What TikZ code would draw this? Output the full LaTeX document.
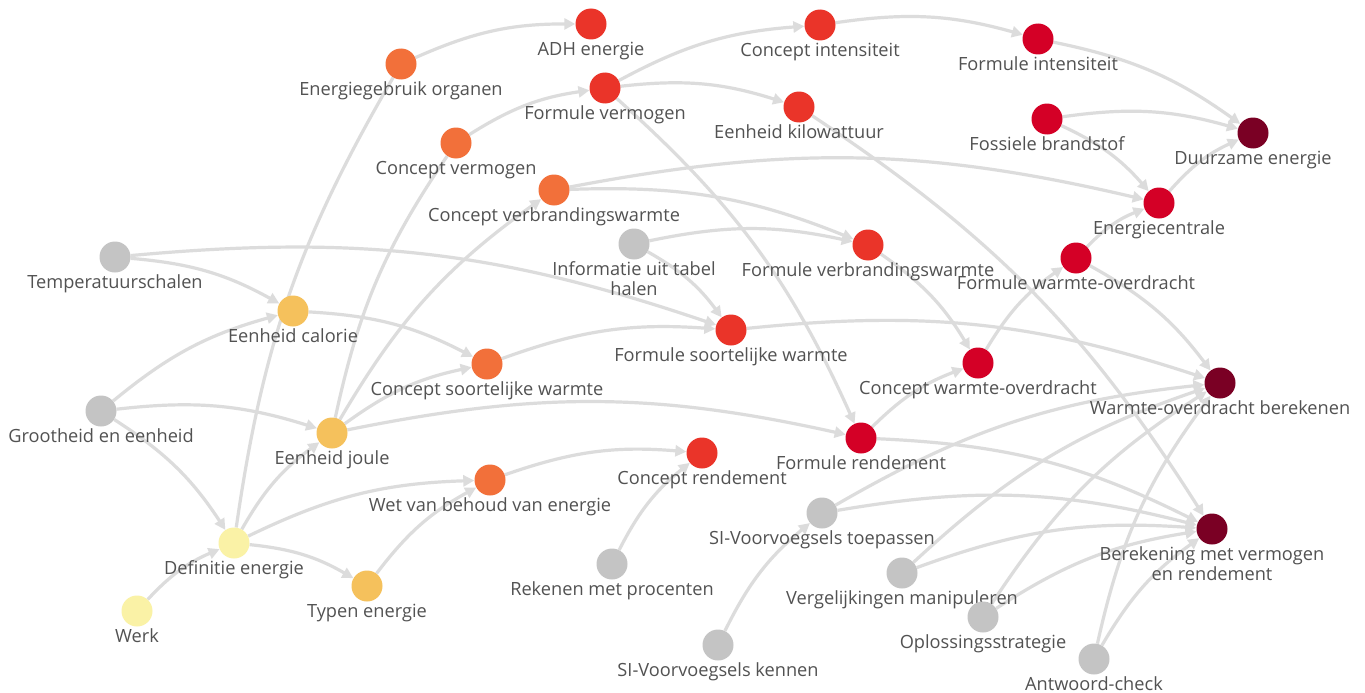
\documentclass[tikz,border=0pt]{standalone}
\usepackage{fontspec}
\setmainfont{Open Sans}
\usetikzlibrary{arrows.meta}
\pgfdeclarelayer{bg}
\pgfsetlayers{bg,main}
\definecolor{cgrey}{HTML}{C4C4C4}
\definecolor{cpale}{HTML}{FAF2A6}
\definecolor{cyel}{HTML}{F5C15C}
\definecolor{corange}{HTML}{F2703A}
\definecolor{cred}{HTML}{EA3429}
\definecolor{ccrim}{HTML}{D40026}
\definecolor{cmaroon}{HTML}{7A0024}
\definecolor{edgec}{HTML}{DCDCDC}
\definecolor{labelc}{HTML}{525252}
\begin{document}
\begin{tikzpicture}[x=1pt,y=-1pt,
  kn/.style={circle,fill=#1,minimum size=31pt,inner sep=0pt,draw=none},
  every label/.style={font=\fontsize{18.2}{20}\selectfont, text=labelc, inner sep=0pt, align=center},
  label distance=2pt,
  lnk/.style={draw=edgec, line width=3.2pt, -{Triangle[length=11pt,width=11pt]}, bend left=12},
  plain/.style={draw=edgec, line width=3.2pt, bend left=11},
]
\useasboundingbox (0,0) rectangle (1365,693);

\node[kn=corange,label=below:Energiegebruik organen] (eo) at (401,64) {};
\node[kn=cred,label=below:ADH energie] (adh) at (591,24) {};
\node[kn=cred,label=below:Concept intensiteit] (ci) at (820,25) {};
\node[kn=ccrim,label=below:Formule intensiteit] (fi) at (1038,39) {};
\node[kn=cred,label=below:Formule vermogen] (fv) at (605,88) {};
\node[kn=cred,label=below:Eenheid kilowattuur] (ek) at (799,107) {};
\node[kn=ccrim,label=below:Fossiele brandstof] (fb) at (1047,119) {};
\node[kn=cmaroon,label=below:Duurzame energie] (de) at (1253,133) {};
\node[kn=corange,label=below:Concept vermogen] (cv) at (456,143) {};
\node[kn=corange,label=below:Concept verbrandingswarmte] (cvw) at (554,190) {};
\node[kn=ccrim,label=below:Energiecentrale] (ec) at (1159,203) {};
\node[kn=cgrey,label=below:Temperatuurschalen] (ts) at (115,257) {};
\node[kn=cgrey,label={below:Informatie uit tabel\\halen}] (it) at (634,244) {};
\node[kn=cred,label=below:Formule verbrandingswarmte] (fvw) at (868,245) {};
\node[kn=ccrim,label=below:Formule warmte-overdracht] (fwo) at (1076,258) {};
\node[kn=cyel,label=below:Eenheid calorie] (ecal) at (293,311) {};
\node[kn=cred,label=below:Formule soortelijke warmte] (fsw) at (731,330) {};
\node[kn=corange,label=below:Concept soortelijke warmte] (csw) at (487,364) {};
\node[kn=ccrim,label=below:Concept warmte-overdracht] (cwo) at (978,363) {};
\node[kn=cmaroon,label=below:Warmte-overdracht berekenen] (wob) at (1220,383) {};
\node[kn=cgrey,label=below:Grootheid en eenheid] (ge) at (101,411) {};
\node[kn=cyel,label=below:Eenheid joule] (ej) at (332,433) {};
\node[kn=ccrim,label=below:Formule rendement] (fr) at (861,438) {};
\node[kn=cred,label=below:Concept rendement] (cr) at (702,453) {};
\node[kn=corange,label=below:Wet van behoud van energie] (wbe) at (490,480) {};
\node[kn=cgrey,label=below:SI-Voorvoegsels toepassen] (sit) at (822,513) {};
\node[kn=cmaroon,label={below:Berekening met vermogen\\en rendement}] (bvr) at (1212,529) {};
\node[kn=cpale,label=below:Definitie energie] (dfe) at (234,543) {};
\node[kn=cgrey,label=below:Rekenen met procenten] (rmp) at (612,564) {};
\node[kn=cyel,label=below:Typen energie] (te) at (367,586) {};
\node[kn=cpale,label=below:Werk] (wk) at (137,611) {};
\node[kn=cgrey,label=below:Vergelijkingen manipuleren] (vm) at (902,573) {};
\node[kn=cgrey,label=below:Oplossingsstrategie] (os) at (983,617) {};
\node[kn=cgrey,label=below:SI-Voorvoegsels kennen] (sik) at (718,645) {};
\node[kn=cgrey,label=below:Antwoord-check] (ac) at (1094,659) {};

\begin{pgfonlayer}{bg}
\fill[white] (0,0) rectangle (1365,693);
\draw[lnk] (eo) to (adh);
\draw[plain] (dfe) to (eo);
\draw[lnk] (cv) to (fv);
\draw[lnk] (fv) to (ci);
\draw[lnk] (fv) to (ek);
\draw[lnk] (fv) to (fr);
\draw[lnk] (ci) to (fi);
\draw[lnk] (fi) to (de);
\draw[lnk] (fb) to (de);
\draw[lnk] (fb) to (ec);
\draw[lnk] (ec) to (de);
\draw[lnk] (cvw) to (ec);
\draw[lnk] (fwo) to (ec);
\draw[lnk] (ek) to (bvr);
\draw[lnk] (cvw) to (fvw);
\draw[lnk] (it) to (fvw);
\draw[lnk] (it) to (fsw);
\draw[lnk] (ts) to (fsw);
\draw[lnk] (ts) to (ecal);
\draw[lnk] (ge) to (ecal);
\draw[lnk] (ge) to (ej);
\draw[lnk] (ge) to (dfe);
\draw[lnk] (wk) to (dfe);
\draw[lnk] (dfe) to (ej);
\draw[lnk] (dfe) to (wbe);
\draw[lnk] (dfe) to (te);
\draw[lnk] (te) to (wbe);
\draw[lnk] (ecal) to (csw);
\draw[lnk] (ej) to (csw);
\draw[lnk] (ej) to (cvw);
\draw[plain] (ej) to (cv);
\draw[lnk] (ej) to (fr);
\draw[lnk] (csw) to (fsw);
\draw[lnk] (fsw) to (wob);
\draw[lnk] (fvw) to (cwo);
\draw[lnk] (fr) to (cwo);
\draw[lnk] (cwo) to (fwo);
\draw[lnk] (fwo) to (wob);
\draw[lnk] (fr) to (bvr);
\draw[lnk] (wbe) to (cr);
\draw[lnk] (rmp) to (cr);
\draw[lnk] (sik) to (sit);
\draw[lnk] (sit) to (wob);
\draw[lnk] (sit) to (bvr);
\draw[lnk] (vm) to (wob);
\draw[lnk] (vm) to (bvr);
\draw[lnk] (os) to (wob);
\draw[lnk] (os) to (bvr);
\draw[lnk] (ac) to (wob);
\draw[lnk] (ac) to (bvr);
\end{pgfonlayer}
\end{tikzpicture}
\end{document}
